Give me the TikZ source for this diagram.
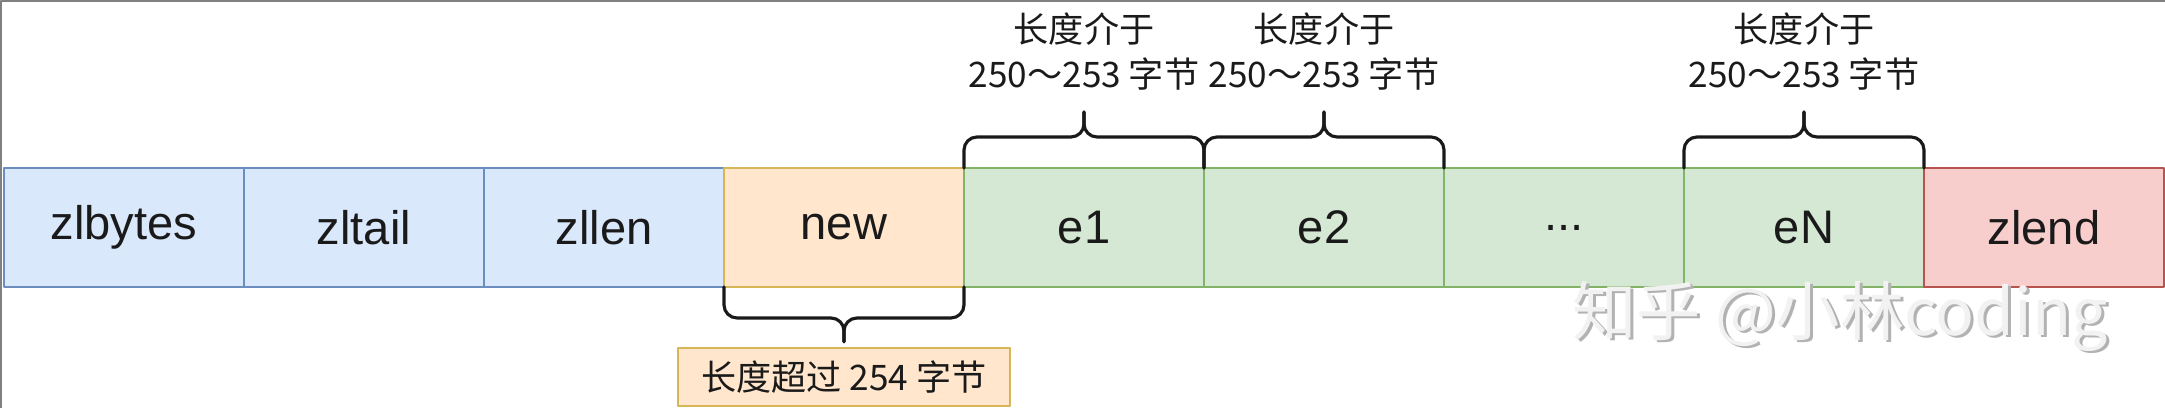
\documentclass[tikz,border=0pt]{standalone}
\usepackage{fontspec}
\setmainfont{Liberation Sans}
\newfontfamily\cjk{Noto Sans CJK SC}
\usetikzlibrary{positioning}
\definecolor{txt}{HTML}{1A1A1A}
\definecolor{headfill}{HTML}{DAE8FC}
\definecolor{headline}{HTML}{6C8EBF}
\definecolor{newfill}{HTML}{FFE6CC}
\definecolor{newline}{HTML}{D6B656}
\definecolor{entfill}{HTML}{D5E8D4}
\definecolor{entline}{HTML}{82B366}
\definecolor{endfill}{HTML}{F8CECC}
\definecolor{endline}{HTML}{B85450}
\definecolor{frame}{HTML}{808080}
\begin{document}
\begin{tikzpicture}[line cap=round,line join=round,font=\fontsize{13.4}{16}\selectfont,
	cell/.style={draw,line width=0.7pt,minimum width=2.4cm,minimum height=1.19cm,inner sep=0pt,outer sep=0pt,text=txt},
	head/.style={cell,fill=headfill,draw=headline},
	newent/.style={cell,fill=newfill,draw=newline},
	entry/.style={cell,fill=entfill,draw=entline},
	endcell/.style={cell,fill=endfill,draw=endline},
	curly/.style={line width=0.9pt,rounded corners=0.13cm,draw=txt},
	note/.style={font=\cjk\fontsize{10}{12.8}\selectfont,align=center,inner sep=0pt,text=txt}]
	\useasboundingbox (0,0) rectangle (21.65,4.08);
	\draw[frame,line width=0.025cm] (0.0125,0) -- (0.0125,4.0675) -- (21.65,4.0675);
	% the list
	\node[head] (zlbytes) at (1.24,1.805) {zlbytes};
	\node[head,right=0pt of zlbytes] (zltail) {zltail};
	\node[head,right=0pt of zltail] (zllen) {zllen};
	\node[newent,right=0pt of zllen] (new) {new};
	\node[entry,right=0pt of new] (e1) {e1};
	\node[entry,right=0pt of e1] (e2) {e2};
	\node[entry,right=0pt of e2] (dots) {...};
	\node[entry,right=0pt of dots] (eN) {eN};
	\node[endcell,right=0pt of eN] (zlend) {zlend};
	% braces above
	\foreach \c in {e1,e2,eN}{
		\coordinate (\c-bar) at ([yshift=0.31cm]\c.north);
		\coordinate (\c-tip) at ([yshift=0.56cm]\c.north);
		\node[note] (\c-note) at ([yshift=1.16cm]\c.north) {长度介于\\250～253 字节};
		\draw[curly] (\c.north west) |- (\c-bar) -- (\c-tip);
		\draw[curly] (\c.north east) |- (\c-bar) -- (\c-tip);
	}
	% brace below
	\coordinate (new-bar) at ([yshift=-0.31cm]new.south);
	\node[note,draw=newline,fill=newfill,line width=0.7pt,minimum width=3.32cm,minimum height=0.58cm] (new-note) at ([yshift=-0.9cm]new.south) {长度超过 254 字节};
	\draw[curly,shorten >=0.05cm] (new.south west) |- (new-bar) -- (new-note.north);
	\draw[curly,shorten >=0.05cm] (new.south east) |- (new-bar) -- (new-note.north);
	% watermark
	\node[font=\cjk\fontsize{18.3}{22}\selectfont,text=gray!60] (wm-shadow) at (18.43,0.89) {知乎 @小林coding};
	\node[font=\cjk\fontsize{18.3}{22}\selectfont,text=gray!10] (watermark) at (18.40,0.91) {知乎 @小林coding};
\end{tikzpicture}
\end{document}
